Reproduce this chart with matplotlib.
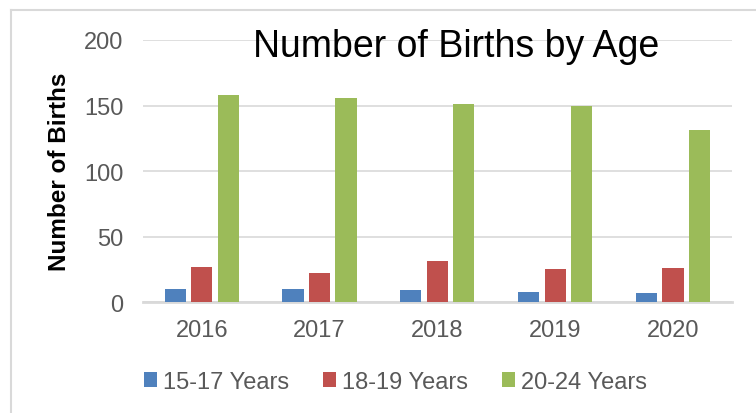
import numpy as np
import matplotlib
matplotlib.use("Agg")
import matplotlib.pyplot as plt
from matplotlib.lines import Line2D

plt.rcParams['font.family'] = ['Liberation Sans', 'DejaVu Sans']

years = ['2016', '2017', '2018', '2019', '2020']
age_15_17 = [10, 10, 9, 8, 7]
age_18_19 = [27, 22, 31, 25, 26]
age_20_24 = [158, 156, 151, 150, 131]
series_names = ['15-17 Years', '18-19 Years', '20-24 Years']
colors = ['#4F81BD', '#C0504D', '#9BBB59']

fig = plt.figure(figsize=(7.56, 4.14), dpi=100)
ax = fig.add_axes([0.189, 0.268, 0.779, 0.633])

x = np.arange(len(years))
step = 0.225
width = 0.18
for i, (vals, name, c) in enumerate(zip([age_15_17, age_18_19, age_20_24], series_names, colors)):
    ax.bar(x + (i - 1) * step, vals, width, color=c, label=name, zorder=3)

ax.set_xlim(-0.5, len(years) - 0.5)
ax.set_ylim(0, 200)
ax.set_yticks([0, 50, 100, 150, 200])
ax.set_xticks(x)
ax.set_xticklabels(years)
ax.grid(axis='y', color='#d9d9d9', linewidth=1.2, zorder=0)
for s in ['top', 'right', 'left']:
    ax.spines[s].set_visible(False)
ax.spines['bottom'].set_color('#d9d9d9')
ax.spines['bottom'].set_linewidth(2)
ax.tick_params(axis='both', length=0, labelsize=17, labelcolor='#595959')
ax.tick_params(axis='y', pad=14)
ax.tick_params(axis='x', pad=12)

ax.set_ylabel('Number of Births', fontsize=17.5, fontweight='bold')
ax.yaxis.set_label_coords(-0.122, 0.5)
ax.text(0.532, 0.939, 'Number of Births by Age', transform=ax.transAxes,
        ha='center', va='baseline', fontsize=27, color='black')

fig.legend(loc='center left', bbox_to_anchor=(0.162, 0.075), ncol=3, frameon=False,
           fontsize=17, labelcolor='#595959', handlelength=0.55, handleheight=0.55,
           handletextpad=0.25, columnspacing=1.45)

# chart frame: only top and left edges are visible in the crop
fig.add_artist(Line2D([11 / 756, 11 / 756], [0, 1 - 11 / 414], transform=fig.transFigure,
                      color='#d9d9d9', linewidth=1.5))
fig.add_artist(Line2D([11 / 756, 1], [1 - 11 / 414, 1 - 11 / 414], transform=fig.transFigure,
                      color='#d9d9d9', linewidth=1.5))

fig.savefig('out.png', dpi=100)
